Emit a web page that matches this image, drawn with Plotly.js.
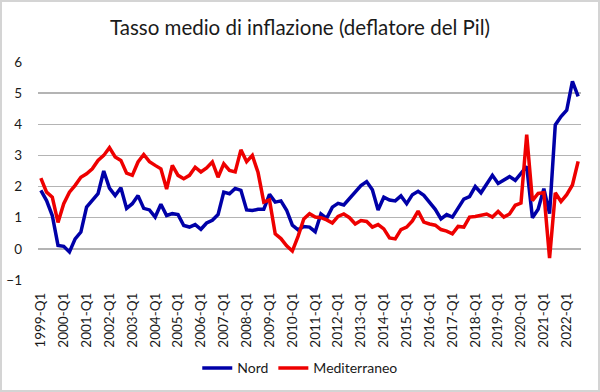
<!DOCTYPE html>
<html>
<head>
<meta charset="utf-8">
<script src="https://cdn.plot.ly/plotly-3.0.1.min.js"></script>
<style>
  html, body { margin: 0; padding: 0; background: #ffffff; }
  #chart { width: 600px; height: 392px; position: relative; }
  #frame { position: absolute; left: 0; top: 0; width: 600px; height: 392px; box-sizing: border-box;
           border: 2px solid #d4d4d4; pointer-events: none; }
</style>
</head>
<body>
<div id="wrap" style="position:relative;width:600px;height:392px;">
  <div id="chart"></div>
  <div id="frame"></div>
</div>
<script>
const chartTitle = "Tasso medio di inflazione (deflatore del Pil)";
const years = [1999,2000,2001,2002,2003,2004,2005,2006,2007,2008,2009,2010,2011,2012,2013,2014,2015,2016,2017,2018,2019,2020,2021,2022];
const quarterNames = ["Q1","Q2","Q3","Q4"];
const quarters = [];
years.forEach(y => quarterNames.forEach(q => quarters.push(y + "-" + q)));
quarters.length = 95; // 1999-Q1 .. 2022-Q3
const tickLabels = quarters.filter(q => q.endsWith("Q1"));

const seriesNames = ["Nord", "Mediterraneo"];
const nord = [
  1.88,1.55,1.07,0.11,0.08,-0.10,0.32,0.54,1.34,1.55,1.77,2.50,1.95,1.71,1.96,1.30,
  1.45,1.71,1.30,1.25,1.02,1.43,1.07,1.13,1.10,0.75,0.70,0.78,0.63,0.83,0.92,1.10,
  1.82,1.77,1.94,1.88,1.25,1.23,1.27,1.27,1.75,1.50,1.54,1.24,0.76,0.61,0.72,0.70,
  0.55,1.12,0.98,1.34,1.46,1.41,1.61,1.79,2.03,2.16,1.90,1.25,1.66,1.57,1.54,1.70,
  1.45,1.74,1.85,1.72,1.50,1.27,0.96,1.10,1.02,1.30,1.60,1.68,2.00,1.80,2.07,2.36,
  2.10,2.22,2.32,2.20,2.42,2.65,1.00,1.27,1.93,1.13,3.98,4.25,4.45,5.38,4.90
];
const mediterraneo = [
  2.27,1.82,1.66,0.85,1.45,1.82,2.04,2.30,2.41,2.57,2.84,3.00,3.25,2.95,2.84,2.43,
  2.36,2.79,3.03,2.80,2.68,2.57,1.92,2.68,2.36,2.25,2.36,2.62,2.47,2.60,2.79,2.30,
  2.73,2.52,2.47,3.18,2.80,3.00,2.45,1.50,1.57,0.48,0.33,0.10,-0.07,0.40,0.96,1.13,
  1.02,1.00,0.93,0.83,1.04,1.12,1.00,0.80,0.91,0.88,0.70,0.78,0.64,0.35,0.32,0.62,
  0.70,0.90,1.21,0.86,0.80,0.76,0.62,0.57,0.48,0.72,0.70,1.02,1.04,1.09,1.12,1.02,
  1.20,1.02,1.12,1.40,1.47,3.67,1.55,1.78,1.80,-0.30,1.80,1.52,1.74,2.05,2.81
];
const seriesColors = ["#0000a8", "#ee0000"];

const font = "Lato, 'Open Sans', sans-serif";

const traces = [nord, mediterraneo].map((vals, k) => ({
  type: "scatter", mode: "lines", name: seriesNames[k],
  x: quarters, y: vals,
  line: { color: seriesColors[k], width: 3.5 }
}));

const layout = {
  width: 600, height: 392,
  margin: { l: 38, r: 19, t: 62, b: 112, autoexpand: false },
  paper_bgcolor: "#ffffff", plot_bgcolor: "#ffffff",
  font: { family: font, color: "#1a1a1a", size: 13 },
  title: { text: chartTitle, x: 0.5, xanchor: "center", y: 0.93, yanchor: "middle",
           font: { family: font, size: 20.5, color: "#1a1a1a" } },
  showlegend: true,
  legend: { orientation: "h", x: 0.483, xanchor: "center", y: -0.405, yanchor: "middle",
            itemwidth: 30, tracegroupgap: 0,
            font: { family: font, size: 14, color: "#1a1a1a" } },
  xaxis: {
    type: "category", range: [-0.5, 94.5], tickmode: "array",
    tickvals: tickLabels, ticktext: tickLabels, tickangle: -90,
    showgrid: false, zeroline: false, showline: false, ticks: "",
    ticklabelstandoff: 9, automargin: false,
    tickfont: { family: font, size: 13.5, color: "#1a1a1a" }, fixedrange: true
  },
  yaxis: {
    range: [-1, 6], dtick: 1, tick0: 0, showgrid: true, gridcolor: "#b4b4b4", gridwidth: 1.3,
    zeroline: false, showline: false, ticks: "",
    ticklabelstandoff: 15, automargin: false,
    tickfont: { family: font, size: 13.5, color: "#1a1a1a" }, fixedrange: true
  }
};

Plotly.newPlot("chart", traces, layout, { displayModeBar: false, staticPlot: true });
</script>
</body>
</html>
